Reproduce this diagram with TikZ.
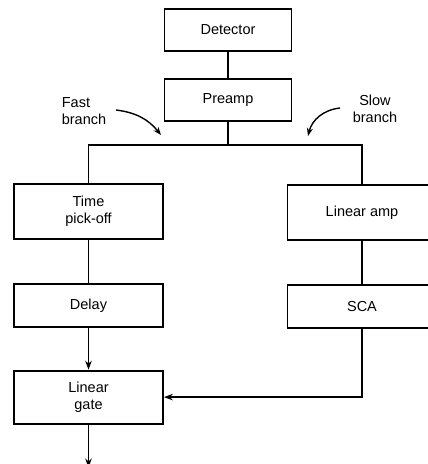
\documentclass[tikz,border=0pt]{standalone}
\usepackage{fontspec}
\setmainfont{Liberation Sans}
\usepackage{tikz}
\usetikzlibrary{arrows.meta, positioning}

\begin{document}
\begin{tikzpicture}[
    x=1pt, y=1pt,
    node distance=26pt,
    blk/.style={rectangle, draw, line width=1.8pt, fill=white,
                minimum height=42pt, minimum width=127pt, align=center,
                font=\fontsize{14.5}{17}\selectfont},
    wide/.style={blk, minimum width=149pt},
    wire/.style={line width=1.8pt},
    arr/.style={wire, -{Stealth[length=9pt, width=6.5pt]}},
    lbl/.style={font=\fontsize{14.5}{17}\selectfont},
]
    \useasboundingbox (0,0) rectangle (428,-464);

    \node[blk] (det) at (228,-30) {Detector};
    \node[blk, below=26pt of det] (pre) {Preamp};
    \node[wide, minimum height=55pt] (tpo) at (88.5,-211.5) {Time\\pick-off};
    \node[wide, minimum height=55pt] (lamp) at (362,-212.5) {Linear amp};
    \node[wide, minimum height=43pt, below=43pt of tpo] (delay) {Delay};
    \node[wide, minimum height=43pt, below=43pt of lamp] (sca) {SCA};
    \node[wide, minimum height=53pt, below=42pt of delay] (gate) {Linear\\gate};
    \coordinate[below=43pt of gate] (out);

    % split point below the preamp
    \coordinate (split) at (pre.south |- 0,-145);
    \draw[wire] (det) -- (pre);
    \draw[wire] (pre) -- (split);
    \draw[wire] (tpo.north) |- (split) -| (lamp.north);
    \draw[wire] (tpo) -- (delay);
    \draw[wire] (lamp) -- (sca);
    \draw[arr] (delay) -- (gate);
    \draw[arr] (sca.south) |- (gate.east);
    \draw[arr] (gate) -- (out);

    % branch labels
    \node[lbl, align=left] (fast) at (84,-111) {Fast\\branch};
    \node[lbl, align=center] (slow) at (375,-109) {Slow\\branch};
    \coordinate (fastend) at (161,-135);
    \coordinate (slowend) at (308,-136);
    \draw[line width=1.4pt, -{Stealth[length=8pt, width=6pt]}]
        (116,-110) to[bend left=22] (fastend);
    \draw[line width=1.4pt, -{Stealth[length=8pt, width=6pt]}]
        (340,-108) to[bend right=35] (slowend);
\end{tikzpicture}
\end{document}
